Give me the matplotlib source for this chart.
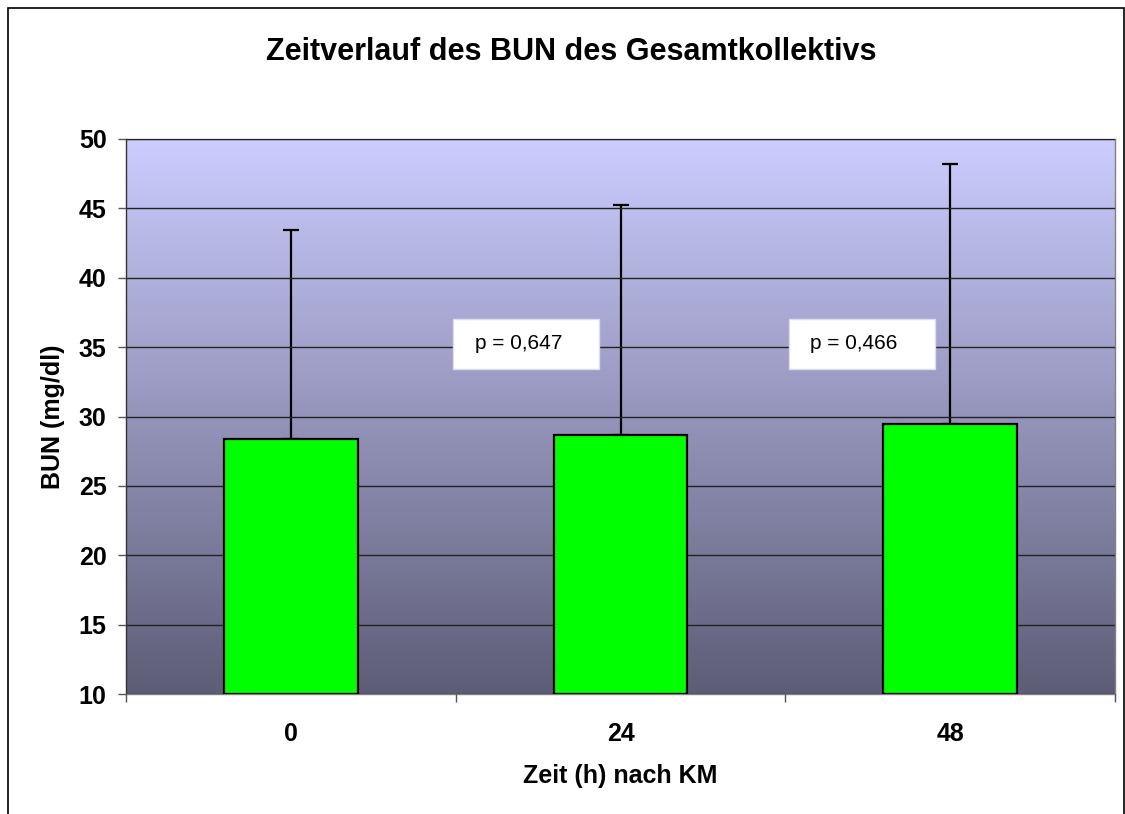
import numpy as np
import matplotlib.pyplot as plt
from matplotlib.colors import LinearSegmentedColormap
from matplotlib.patches import Rectangle

plt.rcParams['font.family'] = ['Liberation Sans', 'DejaVu Sans']

# data
zeiten = ['0', '24', '48']
bun_mittel = [28.4, 28.65, 29.45]
bun_sd = [15.05, 16.6, 18.75]
p_werte = ['p = 0,647', 'p = 0,466']

fig = plt.figure(figsize=(11.25, 8.14), dpi=100)
ax = fig.add_axes([126/1125, 1-694/814, 989/1125, 555/814])

# gradient background
cmap = LinearSegmentedColormap.from_list('bg', ['#5d5d77', '#ccccff'])
grad = np.linspace(0, 1, 256).reshape(-1, 1)
ax.imshow(grad, cmap=cmap, aspect='auto', origin='lower',
          extent=[-0.5, 2.5, 10, 50], zorder=0)

x = np.arange(len(zeiten))
ax.bar(x, [m - 10 for m in bun_mittel], bottom=10, width=0.405,
       color='#00ff00', edgecolor='black', linewidth=1.6, zorder=3)
ax.errorbar(x, bun_mittel, yerr=[[0]*3, bun_sd], fmt='none', ecolor='black',
            elinewidth=1.6, capsize=6, capthick=1.6, zorder=2)

ax.set_xlim(-0.5, 2.5)
ax.set_ylim(10, 50)
ax.set_yticks(range(10, 51, 5))
ax.yaxis.grid(True, color='#222222', linewidth=1)
ax.set_axisbelow(False)
for gl in ax.get_ygridlines():
    gl.set_zorder(1)

ax.set_xticks(x)
ax.set_xticklabels(zeiten, fontsize=18, fontweight='bold')
ax.set_xticks([-0.5, 0.5, 1.5, 2.5], minor=True)
ax.tick_params(axis='x', which='major', length=0, pad=20)
ax.tick_params(axis='x', which='minor', length=6, width=1, color='#555555')
ax.tick_params(axis='y', length=6, width=1, color='#555555', labelsize=18, pad=8)
for lab in ax.get_yticklabels():
    lab.set_fontweight('bold')

for s in ax.spines.values():
    s.set_color('#808080')
    s.set_linewidth(1)
ax.spines['left'].set_color('#333333')

ax.set_xlabel('Zeit (h) nach KM', fontsize=18, fontweight='bold', labelpad=13)
ax.set_ylabel('BUN (mg/dl)', fontsize=18, fontweight='bold', labelpad=10)

fig.text(571/1125, 1-52/814, 'Zeitverlauf des BUN des Gesamtkollektivs',
         ha='center', va='center', fontsize=22, fontweight='bold')

# p-value boxes
for (x0, x1), txt in zip([(0.331, 0.478), (0.670, 0.818)], p_werte):
    ax.add_patch(Rectangle((x0, 0.586), x1 - x0, 0.090, transform=ax.transAxes,
                           facecolor='white', edgecolor='#ddddee', linewidth=1, zorder=4))
    ax.text(x0 + 0.022, 0.631, txt, transform=ax.transAxes, fontsize=15,
            va='center', ha='left', zorder=5)

# outer frame
fig.patches.append(Rectangle((8/1125, -0.1), 1116/1125, 1.1 - 8/814, transform=fig.transFigure,
                             fill=False, edgecolor='black', linewidth=1.2))

fig.savefig('out.png', dpi=100)
